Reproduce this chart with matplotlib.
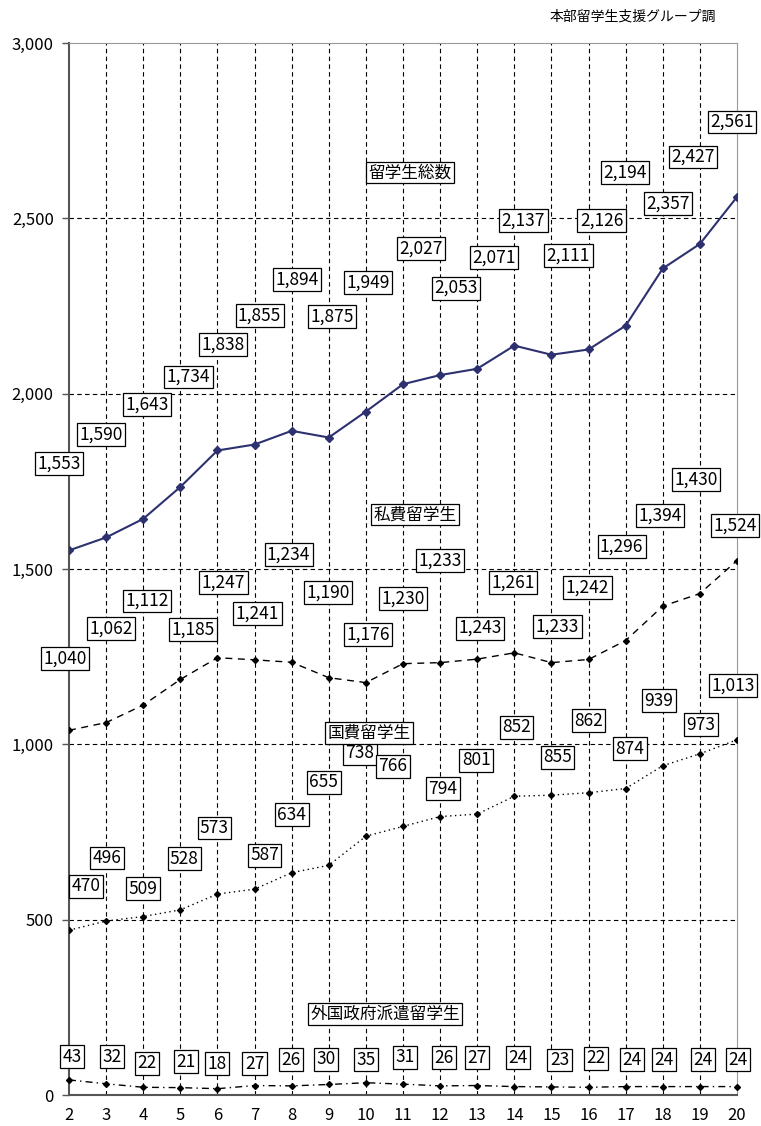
import matplotlib
matplotlib.use('Agg')
import matplotlib.pyplot as plt

plt.rcParams['font.family'] = ['Noto Sans CJK JP', 'DejaVu Sans']

# years (Heisei)
years = list(range(2, 21))

# series values
total = [1553, 1590, 1643, 1734, 1838, 1855, 1894, 1875, 1949, 2027,
         2053, 2071, 2137, 2111, 2126, 2194, 2357, 2427, 2561]
private = [1040, 1062, 1112, 1185, 1247, 1241, 1234, 1190, 1176, 1230,
           1233, 1243, 1261, 1233, 1242, 1296, 1394, 1430, 1524]
govt = [470, 496, 509, 528, 573, 587, 634, 655, 738, 766,
        794, 801, 852, 855, 862, 874, 939, 973, 1013]
foreign = [43, 32, 22, 21, 18, 27, 26, 30, 35, 31,
           26, 27, 24, 23, 22, 24, 24, 24, 24]

series_names = ['留学生総数', '私費留学生', '国費留学生', '外国政府派遣留学生']
source_note = '本部留学生支援グループ調'
yticks = [0, 500, 1000, 1500, 2000, 2500, 3000]

# label offsets in pixels from each point (dx, dy)
total_off = [(-10, 87), (-5, 103), (4, 114), (8, 110), (6, 106), (5, 129), (5, 151),
             (3, 121), (2, 129), (18, 136), (16, 87), (17, 111), (9, 125), (17, 99),
             (13, 129), (-1, 153), (5, 65), (-7, 87), (-5, 75)]
private_off = [(-4, 72), (5, 94), (4, 104), (13, 50), (6, 75), (3, 46), (-3, 108),
               (-1, 85), (2, 48), (0, 65), (0, 102), (3, 31), (-1, 70), (6, 36),
               (-1, 72), (-4, 94), (-3, 91), (-4, 114), (-2, 35)]
govt_off = [(17, 44), (1, 63), (0, 28), (4, 51), (-3, 66), (10, 34), (0, 58),
            (-5, 83), (-6, 83), (-10, 60), (3, 28), (-1, 54), (2, 69), (6, 38),
            (0, 72), (4, 40), (-4, 65), (1, 29), (-4, 54)]
foreign_off = [(3, 23), (6, 27), (4, 24), (6, 26), (0, 25), (0, 22), (-1, 26),
               (-3, 25), (0, 23), (2, 27), (4, 28), (0, 28), (4, 29), (8, 27),
               (7, 29), (6, 27), (1, 27), (3, 27), (1, 27)]

fig = plt.figure(figsize=(7.61, 11.26), dpi=100)
ax = fig.add_axes([69 / 761, 1 - 1095 / 1126, (737 - 69) / 761, (1095 - 43) / 1126])

ax.set_xlim(2, 20)
ax.set_ylim(0, 3000)

# grid
for x in years[1:-1]:
    ax.axvline(x, color='black', lw=0.8, ls=(0, (4, 3)), zorder=1)
for y in yticks[1:-1]:
    ax.axhline(y, color='black', lw=0.8, ls=(0, (4, 3)), zorder=1)

navy = '#2e3170'
ax.plot(years, total, color=navy, lw=1.5, marker='D', ms=4, zorder=3)
ax.plot(years, private, color='black', lw=1.0, ls=(0, (5, 4)), marker='D', ms=3, zorder=3)
ax.plot(years, govt, color='black', lw=1.0, ls=(0, (1, 2.5)), marker='D', ms=3, zorder=3)
ax.plot(years, foreign, color='black', lw=1.0, ls=(0, (5, 3, 1, 3)), marker='D', ms=3,
        clip_on=False, zorder=3)

box = dict(boxstyle='square,pad=0.14', fc='white', ec='black', lw=0.9)


def fmt(v):
    return f'{v:,}'


for vals, offs in [(total, total_off), (private, private_off),
                   (govt, govt_off), (foreign, foreign_off)]:
    for x, v, (dx, dy) in zip(years, vals, offs):
        ax.annotate(fmt(v), (x, v), xytext=(dx, dy), textcoords='offset pixels',
                    ha='center', va='center', fontsize=12.5, bbox=box, zorder=5,
                    annotation_clip=False)

# series name boxes (anchored to the series at year 10)
name_anchor = [(10, total, 44, 239), (10, private, 49, 168),
               (10, govt, 3, 103), (10, foreign, 19, 69)]
for name, (x, vals, dx, dy) in zip(series_names, name_anchor):
    ax.annotate(name, (x, vals[years.index(x)]), xytext=(dx, dy),
                textcoords='offset pixels', ha='center', va='center',
                fontsize=12, bbox=box, zorder=6)

fig.text(633 / 761, 1 - 16 / 1126, source_note, ha='center', va='center', fontsize=10)

ax.set_xticks(years)
ax.set_xticklabels([str(y) for y in years], fontsize=12)
ax.set_yticks(yticks)
ax.set_yticklabels([fmt(y) for y in yticks], fontsize=12)
ax.tick_params(axis='y', direction='out', length=5, width=1, color='#555555', pad=6)
ax.tick_params(axis='x', direction='out', length=0, pad=9)

ax.spines['left'].set_color('#555555')
ax.spines['left'].set_linewidth(1.5)
ax.spines['bottom'].set_color('#555555')
ax.spines['bottom'].set_linewidth(1.5)
ax.spines['top'].set_color('#999999')
ax.spines['top'].set_linewidth(0.8)
ax.spines['right'].set_color('#999999')
ax.spines['right'].set_linewidth(0.8)

fig.savefig('out.png', dpi=100)
